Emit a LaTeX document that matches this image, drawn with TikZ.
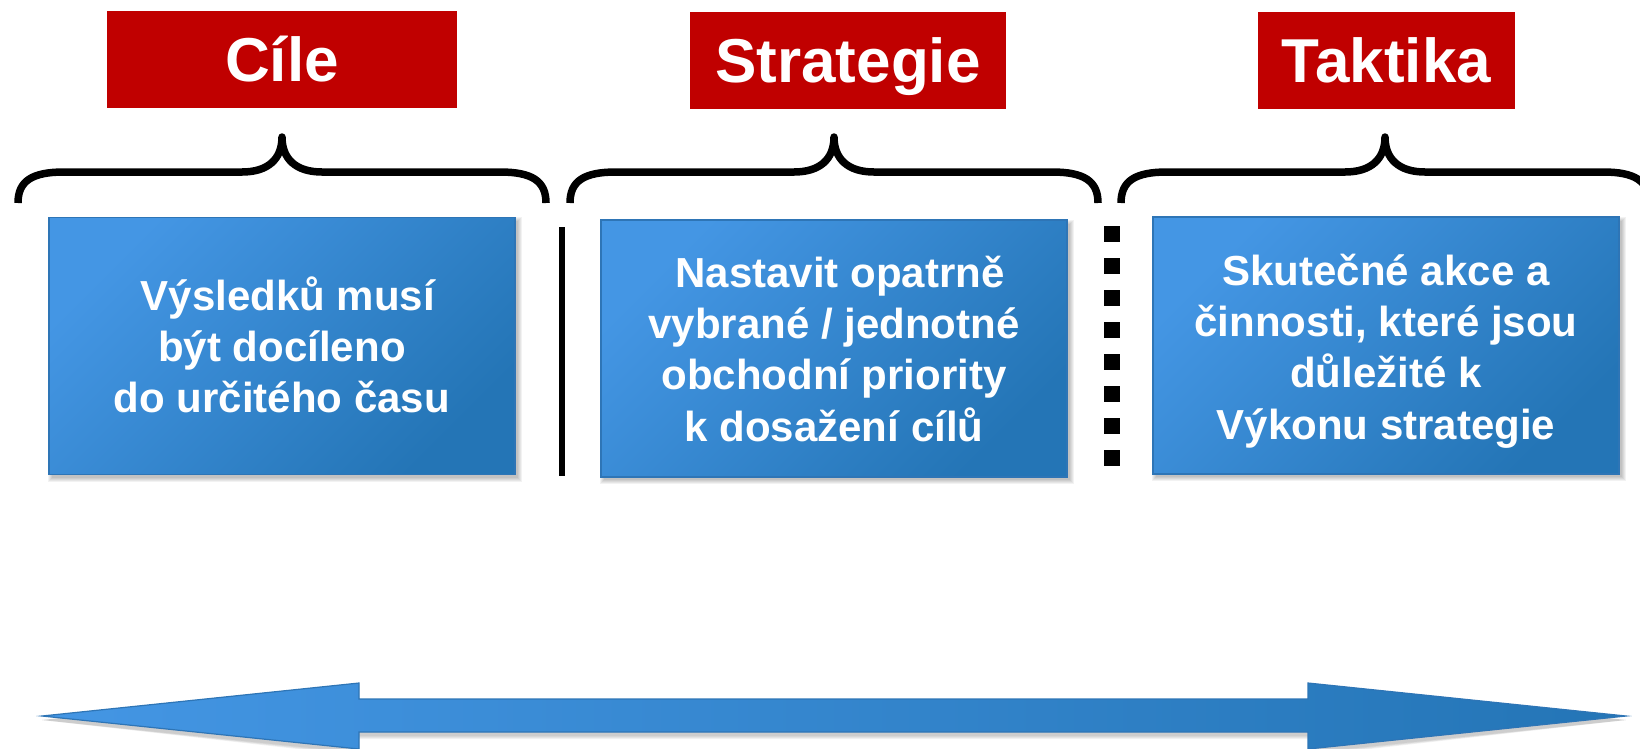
\documentclass[tikz,border=0pt]{standalone}
\usepackage{fontspec}
\setmainfont{Liberation Sans}
\definecolor{hdrred}{RGB}{192,0,0}
\definecolor{bluelight}{RGB}{68,150,228}
\definecolor{bluedark}{RGB}{36,117,182}
\definecolor{blueedge}{RGB}{46,117,182}

% soft shadow under a rectangle given by its corners
\newcommand\softshadow[4]{%
  \foreach \g in {0,1,2,3,4}{%
    \fill[black,opacity=0.05] (#1+3-\g,#2+4-\g) rectangle (#3+3+\g,#4+3+\g);}}

\begin{document}
\begin{tikzpicture}[x=1pt,y=-1pt,
  header/.style={fill=hdrred, inner sep=0pt, text=white,
    font=\bfseries\fontsize{62}{62}\selectfont,
    text height=44.5pt, text depth=0pt,
    minimum height=97pt},
  infobox/.style={draw=blueedge, line width=1.5pt, inner sep=0pt,
    shade, top color=bluelight, middle color=bluelight!88!bluedark,
    bottom color=bluedark, shading angle=45,
    minimum width=466pt, minimum height=257pt},
  boxtext/.style={inner sep=0pt, text=white, anchor=base,
    font=\bfseries\fontsize{42}{51.4}\selectfont},
  bracestyle/.style={line width=7.5pt, line join=round, line cap=butt},
  brace top/.pic={
    \draw[bracestyle] (-264,66) .. controls (-264,44) and (-250,35) .. (-218,35)
      -- (-40,35) .. controls (-14,35) and (0,22) .. (0,0)
      .. controls (0,22) and (14,35) .. (40,35)
      -- (218,35) .. controls (250,35) and (264,44) .. (264,66);
  }
]
\useasboundingbox[fill=white] (0,0) rectangle (1640,748);

% section headers
\node[header, minimum width=350pt] (hCile) at (282,59.5) {Cíle};
\node[header, minimum width=316pt] (hStrat) at (848,60) {Strategie};
\node[header, minimum width=257pt] (hTakt) at (1386.5,60) {Taktika};

% braces
\pic at (282,137) {brace top};
\pic at (834,137) {brace top};
\pic at (1385,137) {brace top};

% shadows of the boxes
\softshadow{49}{217}{515}{475}
\softshadow{601}{220}{1067}{477}
\softshadow{1153}{217}{1619}{474}

% boxes
\node[infobox] (bCile) at (282,346) {};
\node[infobox] (bStrat) at (834,348.5) {};
\node[infobox] (bTakt) at (1386,345.5) {};

\node[boxtext] (tCile) at (282,310) {\parbox[t]{450pt}{\centering
  \hspace*{.28em}Výsledků musí\\
  být docíleno\hspace*{.28em}\\
  do určitého času}};
\node[boxtext] (tStrat) at (834,287) {\parbox[t]{450pt}{\centering
  \hspace*{.28em}Nastavit opatrně\\
  vybrané / jednotné\\
  obchodní priority\\
  k dosažení cílů}};
\node[boxtext] (tTakt) at (1386,285) {\parbox[t]{450pt}{\centering
  Skutečné akce a\\
  činnosti, které jsou\\
  důležité k\hspace*{.28em}\\
  Výkonu strategie}};

% separators
\draw[line width=6pt] (562,227) -- (562,476);
\foreach \k in {0,...,7}
  \fill (1104,226+32*\k) rectangle (1120,242+32*\k);

% double-headed arrow
\coordinate (arrL) at (42,716);
\coordinate (arrR) at (1626,716);
\foreach \g in {0,1,2,3}{
  \fill[black,opacity=0.05] ([yshift=-4pt]arrL) -- (359,687-\g) -- (359,703-\g) -- (1308,703-\g)
    -- (1308,687-\g) -- ([yshift=-4pt]arrR) -- (1308,753+\g) -- (1308,736+\g)
    -- (359,736+\g) -- (359,753+\g) -- cycle;}
\draw[blueedge, line width=1.2pt, left color=bluelight, right color=bluedark]
  (arrL) -- (359,683) -- (359,699) -- (1308,699) -- (1308,683) -- (arrR)
  -- (1308,749) -- (1308,732) -- (359,732) -- (359,749) -- cycle;
\end{tikzpicture}
\end{document}
